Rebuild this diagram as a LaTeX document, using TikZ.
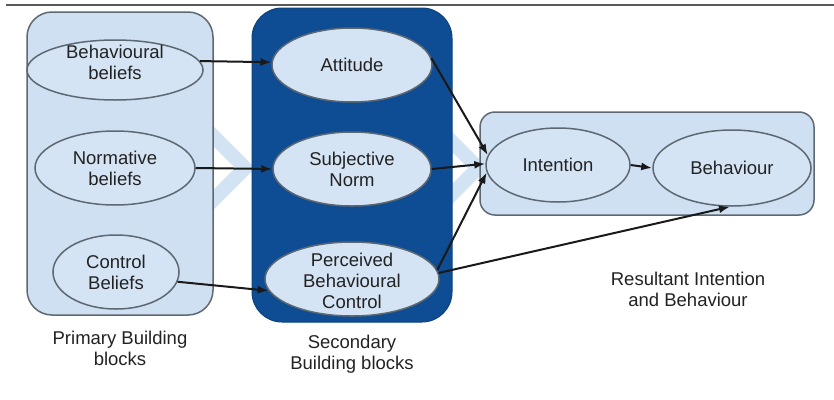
\documentclass[tikz,border=0pt]{standalone}
\usepackage{fontspec}
\setmainfont{Liberation Sans}
\usetikzlibrary{arrows.meta,shapes.geometric}
\definecolor{panel}{HTML}{CFE0F2}
\definecolor{ellfill}{HTML}{D5E4F4}
\definecolor{darkpanel}{HTML}{0E4D93}
\definecolor{edgec}{HTML}{5E6872}
\definecolor{chev}{HTML}{D2E3F4}
\definecolor{txt}{HTML}{222222}
\begin{document}
\begin{tikzpicture}[x=1pt,y=-1pt,
  ell/.style={ellipse, draw=edgec, line width=1.5pt, fill=ellfill, inner sep=0pt},
  lbl/.style={align=center, text=txt, inner sep=0pt, font=\fontsize{18.5}{21}\selectfont},
  conn/.style={-{Latex[length=11pt,width=8pt]}, line width=2pt, black!90}]
\useasboundingbox (0,0) rectangle (834,399);
\draw[line width=2.2pt, gray!70!black] (6,5) -- (834,5);
% chevrons
\fill[chev] (195,108) -- (255,168) -- (195,228) -- (195,208) -- (235,168) -- (195,128) -- cycle;
\fill[chev] (428,108) -- (488,168) -- (428,228) -- (428,208) -- (468,168) -- (428,128) -- cycle;
% panels
\draw[draw=edgec, fill=panel, line width=1.5pt, rounded corners=25pt] (27,12) rectangle (213,315);
\draw[draw=darkpanel!85!black, fill=darkpanel, line width=1pt, rounded corners=30pt] (252,8) rectangle (452,322);
\draw[draw=edgec, fill=panel, line width=1.5pt, rounded corners=15pt] (480,112) rectangle (814,215);
% ellipses
\node[ell, minimum width=176pt, minimum height=60pt] (bb) at (115,70) {};
\node[lbl] (bbt) at (115,62) {Behavioural\\beliefs};
\node[ell, minimum width=160pt, minimum height=74pt, lbl, inner sep=0pt] (nb) at (115,168) {Normative\\beliefs};
\node[ell, minimum width=126pt, minimum height=74pt, lbl, inner sep=0pt] (cb) at (116,272) {Control\\Beliefs};
\node[ell, minimum width=160pt, minimum height=74pt, lbl, inner sep=0pt] (att) at (352,65) {Attitude};
\node[ell, minimum width=158pt, minimum height=74pt, lbl, inner sep=0pt] (sn) at (352,169) {Subjective\\Norm};
\node[ell, minimum width=174pt, minimum height=74pt] (pbc) at (352,279) {};
\node[lbl] (pbct) at (352,281) {Perceived\\Behavioural\\Control};
\node[ell, minimum width=144pt, minimum height=74pt, lbl, inner sep=0pt] (int) at (558,165) {Intention};
\node[ell, minimum width=158pt, minimum height=76pt, lbl, inner sep=0pt] (bh) at (732,168) {Behaviour};
% labels
\node[lbl] (l1) at (120,348) {Primary Building\\blocks};
\node[lbl] (l2) at (352,354) {Secondary\\Building blocks};
\node[lbl] (l3) at (688,289) {Resultant Intention\\and Behaviour};
% connectors
\draw[conn] (bb.6) -- (att.178);
\draw[conn] (nb.east) -- (sn.west);
\draw[conn] (cb.-9) -- (pbc.188);
\draw[conn] (att.5) -- (int.172);
\draw[conn] (sn.east) -- (int.179);
\draw[conn] (pbc.6) -- (int.186);
\draw[conn] (pbc.4) -- (bh.-93);
\draw[conn] (int.east) -- (bh.west);
\end{tikzpicture}
\end{document}
